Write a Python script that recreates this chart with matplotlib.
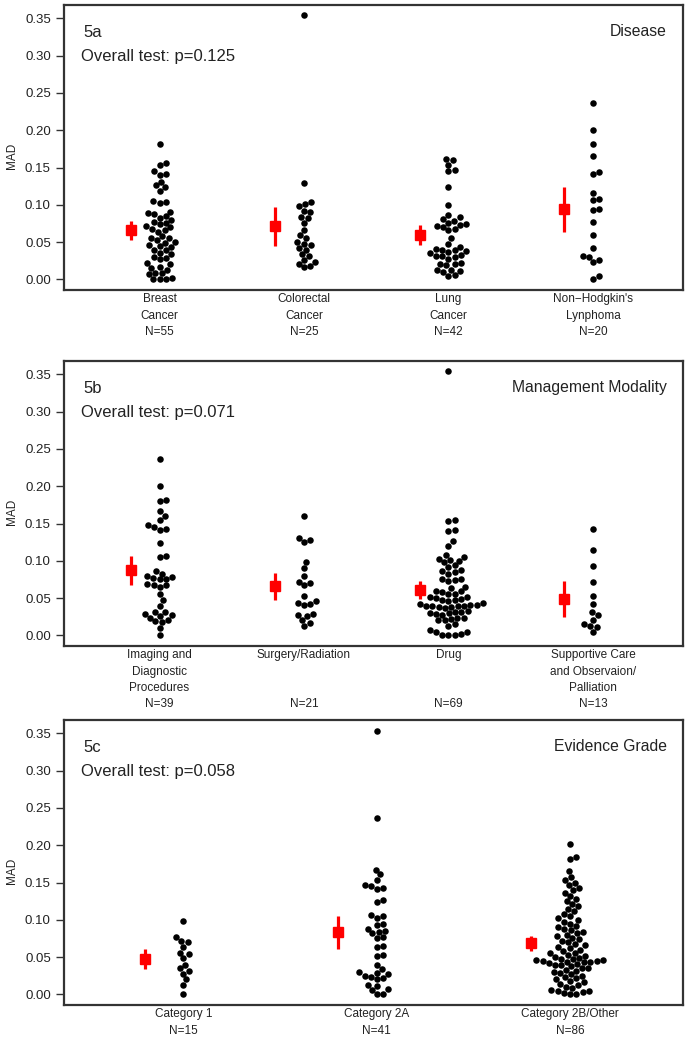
import numpy as np
import matplotlib
matplotlib.use("Agg")
import matplotlib.pyplot as plt

plt.rcParams['font.family'] = ['Liberation Sans', 'DejaVu Sans']

# ---- data (MAD values) ----
disease_names = ["Breast\nCancer", "Colorectal\nCancer", "Lung\nCancer",
                 "Non\u2212Hodgkin's\nLynphoma"]
breast = [0.182, 0.156, 0.154, 0.145, 0.142, 0.140, 0.131, 0.126, 0.124, 0.119,
          0.105, 0.103, 0.104, 0.091, 0.089, 0.088, 0.085, 0.083, 0.080, 0.077,
          0.076, 0.074, 0.071, 0.070, 0.067, 0.066, 0.064, 0.058, 0.056, 0.055,
          0.053, 0.050, 0.049, 0.046, 0.045, 0.043, 0.040, 0.039, 0.036, 0.034,
          0.030, 0.029, 0.027, 0.022, 0.020, 0.017, 0.015, 0.012, 0.009, 0.008,
          0.007, 0.002, 0.001, 0.000, 0.000]
colorectal = [0.354, 0.129, 0.104, 0.101, 0.098, 0.092, 0.090, 0.084, 0.082, 0.075,
              0.066, 0.059, 0.056, 0.050, 0.048, 0.046, 0.042, 0.040, 0.034, 0.031,
              0.026, 0.024, 0.021, 0.018, 0.016]
lung = [0.162, 0.160, 0.154, 0.147, 0.145, 0.124, 0.100, 0.086, 0.084, 0.081,
        0.079, 0.076, 0.074, 0.073, 0.072, 0.070, 0.068, 0.066, 0.056, 0.048,
        0.043, 0.041, 0.040, 0.039, 0.038, 0.037, 0.036, 0.033, 0.032, 0.031,
        0.030, 0.028, 0.022, 0.021, 0.020, 0.019, 0.013, 0.012, 0.011, 0.010,
        0.006, 0.005]
lymphoma = [0.237, 0.201, 0.181, 0.166, 0.144, 0.142, 0.116, 0.108, 0.106, 0.095,
            0.093, 0.077, 0.059, 0.042, 0.031, 0.030, 0.023, 0.026, 0.004, 0.001]

modality_names = ["Imaging and\nDiagnostic\nProcedures", "Surgery/Radiation", "Drug",
                  "Supportive Care\nand Observaion/\nPalliation"]
imaging = [0.236, 0.201, 0.182, 0.180, 0.167, 0.160, 0.155, 0.148, 0.146, 0.143,
           0.141, 0.124, 0.107, 0.105, 0.087, 0.083, 0.080, 0.078, 0.077, 0.076,
           0.075, 0.069, 0.068, 0.067, 0.065, 0.056, 0.047, 0.040, 0.032, 0.031,
           0.029, 0.028, 0.026, 0.024, 0.021, 0.019, 0.018, 0.010, 0.000]
surgery = [0.160, 0.130, 0.128, 0.125, 0.099, 0.091, 0.080, 0.072, 0.070, 0.067,
           0.053, 0.046, 0.044, 0.042, 0.041, 0.029, 0.028, 0.026, 0.021, 0.016,
           0.013]
drug = [0.354, 0.155, 0.153, 0.142, 0.140, 0.126, 0.120, 0.108, 0.105, 0.103,
        0.101, 0.100, 0.098, 0.094, 0.092, 0.088, 0.086, 0.085, 0.083, 0.076,
        0.075, 0.074, 0.073, 0.065, 0.063, 0.060, 0.059, 0.058, 0.056, 0.055,
        0.052, 0.051, 0.050, 0.049, 0.048, 0.047, 0.042, 0.041, 0.041, 0.040,
        0.040, 0.039, 0.039, 0.038, 0.038, 0.037, 0.033, 0.032, 0.031, 0.030,
        0.030, 0.029, 0.028, 0.024, 0.023, 0.022, 0.021, 0.020, 0.015, 0.013,
        0.007, 0.005, 0.004, 0.002, 0.001, 0.000, 0.000, 0.046, 0.044]
supportive = [0.143, 0.114, 0.093, 0.072, 0.053, 0.042, 0.032, 0.027, 0.021, 0.015,
              0.012, 0.011, 0.004]

grade_names = ["Category 1", "Category 2A", "Category 2B/Other"]
cat1 = [0.099, 0.077, 0.072, 0.070, 0.064, 0.056, 0.054, 0.049, 0.039, 0.035,
        0.031, 0.028, 0.020, 0.012, 0.000]
cat2a = [0.353, 0.237, 0.167, 0.161, 0.154, 0.147, 0.145, 0.143, 0.141, 0.126,
         0.124, 0.107, 0.105, 0.103, 0.094, 0.093, 0.088, 0.085, 0.084, 0.082,
         0.077, 0.076, 0.065, 0.063, 0.053, 0.051, 0.040, 0.034, 0.030, 0.029,
         0.027, 0.025, 0.024, 0.022, 0.020, 0.013, 0.011, 0.007, 0.006, 0.001,
         0.000]
cat2b = [0.202, 0.184, 0.181, 0.166, 0.158, 0.154, 0.150, 0.147, 0.143, 0.140,
         0.136, 0.132, 0.128, 0.125, 0.121, 0.118, 0.115, 0.112, 0.108, 0.105,
         0.102, 0.100, 0.097, 0.095, 0.092, 0.090, 0.088, 0.086, 0.084, 0.082,
         0.080, 0.078, 0.076, 0.074, 0.072, 0.070, 0.068, 0.066, 0.064, 0.062,
         0.060, 0.058, 0.056, 0.055, 0.053, 0.052, 0.050, 0.049, 0.048, 0.047,
         0.046, 0.046, 0.045, 0.045, 0.044, 0.044, 0.043, 0.042, 0.041, 0.040,
         0.039, 0.038, 0.036, 0.035, 0.033, 0.032, 0.030, 0.029, 0.027, 0.025,
         0.023, 0.022, 0.020, 0.018, 0.016, 0.014, 0.012, 0.010, 0.008, 0.006,
         0.005, 0.004, 0.003, 0.002, 0.001, 0.000]

panels = [
    ("5a", "Disease", "Overall test: p=0.125", disease_names,
     [breast, colorectal, lung, lymphoma]),
    ("5b", "Management Modality", "Overall test: p=0.071", modality_names,
     [imaging, surgery, drug, supportive]),
    ("5c", "Evidence Grade", "Overall test: p=0.058", grade_names,
     [cat1, cat2a, cat2b]),
]


def swarm(values, ppx, ppy, d):
    """beeswarm-style x offsets (data units) for values, points of diameter d px"""
    ys = np.asarray(values) * ppy
    xs = np.zeros(len(ys))
    px_list, py_list = [], []
    for i in np.argsort(ys, kind="stable"):
        y = ys[i]
        cands = [0.0]
        for px, py in zip(px_list, py_list):
            dy = abs(y - py)
            if dy < d:
                dx = np.sqrt(d * d - dy * dy)
                cands += [px + dx, px - dx]
        cands.sort(key=lambda c: (abs(c), -c))
        for c in cands:
            if all((c - px) ** 2 + (y - py) ** 2 >= d * d - 1e-6
                   for px, py in zip(px_list, py_list)):
                break
        xs[i] = c
        px_list.append(c)
        py_list.append(y)
    return xs / ppx


W, H = 692, 1050
fig = plt.figure(figsize=(W / 100, H / 100), dpi=100)
boxes = [(5, 290), (361, 646), (720, 1005)]
ylim = (-0.0142, 0.368)

for (tag, title, test, names, groups), (top, bot) in zip(panels, boxes):
    ax = fig.add_axes([64 / W, 1 - bot / H, 619 / W, (bot - top) / H])
    k = len(groups)
    if k == 4:
        ax.set_xlim(0.339, 4.623)
    else:
        ax.set_xlim(0.383, 3.584)
    ax.set_ylim(*ylim)
    ppx = 619 / (ax.get_xlim()[1] - ax.get_xlim()[0])
    ppy = (bot - top) / (ylim[1] - ylim[0])

    max_lines = max(n.count("\n") + 1 for n in names)
    for j, vals in enumerate(groups):
        x = j + 1
        offs = swarm(vals, ppx, ppy, 6.4)
        ax.scatter(x + offs, vals, s=22, color="black", linewidths=0, zorder=3)
        m = np.mean(vals)
        half = 1.96 * np.std(vals, ddof=1) / np.sqrt(len(vals))
        ax.plot([x - 0.2, x - 0.2], [m - half, m + half], color="red",
                lw=2.3, solid_capstyle="butt", zorder=3)
        ax.plot(x - 0.2, m, marker="s", color="red", markersize=7.3, zorder=4)
        nl = names[j].count("\n") + 1
        label = names[j] + "\n" * (max_lines - nl + 1) + "N=%d" % len(vals)
        ax.annotate(label, xy=(x, 0), xycoords=ax.get_xaxis_transform(),
                    xytext=(0, -2.5), textcoords="offset points",
                    ha="center", va="top", fontsize=8.5, linespacing=1.45,
                    color="#222222")

    ax.set_xticks([])
    ticks = np.arange(0, 0.36, 0.05)
    ax.set_yticks(ticks)
    ax.set_yticklabels(["%.2f" % t for t in ticks])
    ax.tick_params(axis="y", length=6, width=1, pad=3.5, labelsize=9.5,
                   colors="#333333", labelcolor="#222222")
    for sp in ax.spines.values():
        sp.set_linewidth(1.6)
        sp.set_color("#333333")
    ax.set_ylabel("MAD", fontsize=8.5, color="#222222")
    ax.yaxis.set_label_coords(-0.074, 0.47)

    ax.text(0.031, 0.905, tag, transform=ax.transAxes, fontsize=12,
            va="center", ha="left", color="#222222")
    ax.text(0.028, 0.821, test, transform=ax.transAxes, fontsize=12,
            va="center", ha="left", color="#222222")
    ax.text(0.974, 0.908, title, transform=ax.transAxes, fontsize=11.3,
            va="center", ha="right", color="#222222")

fig.savefig("out.png", dpi=100)
